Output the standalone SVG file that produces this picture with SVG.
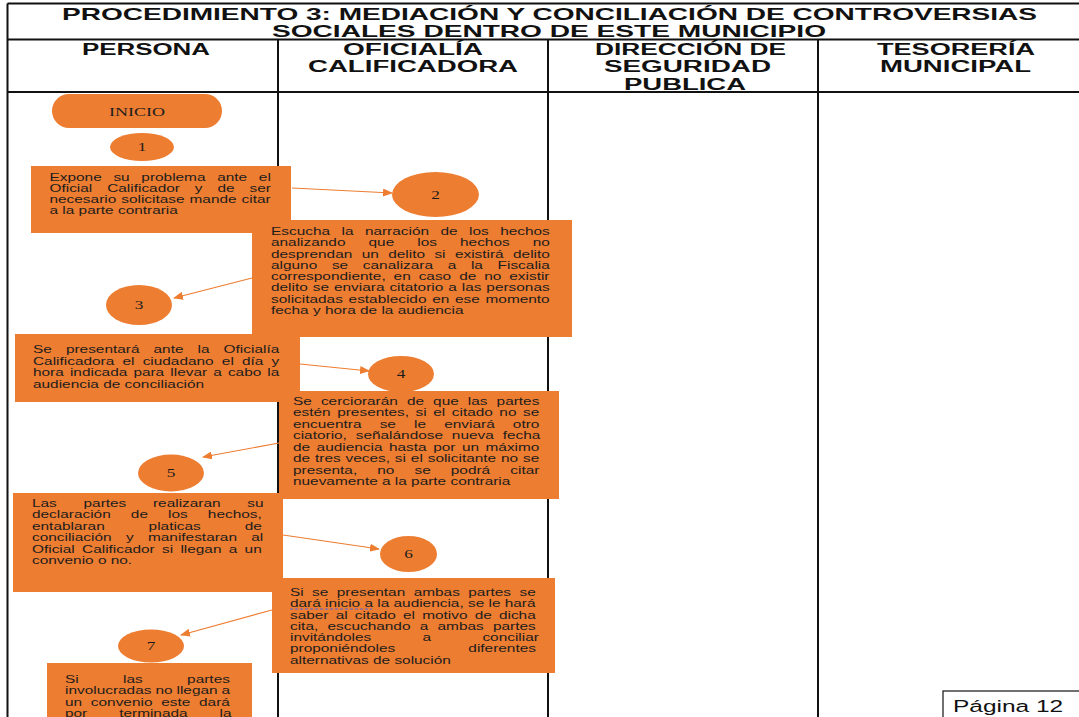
<svg xmlns="http://www.w3.org/2000/svg" width="1079" height="717" viewBox="0 0 1079 717">
<defs>
<style>
.grid{stroke:#111;stroke-width:2;fill:none}
.hd{font-family:"Liberation Sans",Arial,sans-serif;font-weight:bold;font-size:16px;fill:#111}
.tt{font-family:"Liberation Sans",Arial,sans-serif;font-weight:bold;font-size:17px;fill:#111}
.box{fill:#ED7D31}
.bt{font-family:"Liberation Sans",Arial,sans-serif;font-size:10.7px;fill:#1c1c1c}
.num{font-family:"Liberation Serif","Times New Roman",serif;font-size:12px;fill:#1c1c1c;text-anchor:middle}
.con{stroke:#ED7D31;stroke-width:1.2;fill:none;marker-end:url(#arr)}
</style>
<marker id="arr" markerWidth="10" markerHeight="8" refX="9" refY="4" orient="auto" markerUnits="userSpaceOnUse">
<path d="M0,0 L10,4 L0,8 z" fill="#ED7D31"/>
</marker>
</defs>
<rect width="1079" height="717" fill="#fff"/>
<g id="grid">
<line class="grid" x1="7.5" y1="3.5" x2="1079" y2="3.5"/>
<line class="grid" x1="7.5" y1="39.5" x2="1079" y2="39.5"/>
<line class="grid" x1="7.5" y1="92" x2="1079" y2="92"/>
<line class="grid" x1="7.5" y1="3.5" x2="7.5" y2="717"/>
<line class="grid" x1="278" y1="39.5" x2="278" y2="717"/>
<line class="grid" x1="548" y1="39.5" x2="548" y2="717"/>
<line class="grid" x1="818" y1="39.5" x2="818" y2="717"/>
</g>
<g id="header">
<text class="tt" x="62" y="19.5" textLength="975" lengthAdjust="spacingAndGlyphs">PROCEDIMIENTO 3: MEDIACIÓN Y CONCILIACIÓN DE CONTROVERSIAS</text>
<text class="tt" x="272" y="36.5" textLength="554" lengthAdjust="spacingAndGlyphs">SOCIALES DENTRO DE ESTE MUNICIPIO</text>
<text class="hd" x="82" y="54.5" textLength="128" lengthAdjust="spacingAndGlyphs">PERSONA</text>
<text class="hd" x="343" y="54.5" textLength="140" lengthAdjust="spacingAndGlyphs">OFICIALÍA</text>
<text class="hd" x="308" y="72" textLength="210" lengthAdjust="spacingAndGlyphs">CALIFICADORA</text>
<text class="hd" x="595" y="54.5" textLength="191" lengthAdjust="spacingAndGlyphs">DIRECCIÓN DE</text>
<text class="hd" x="604" y="72" textLength="167" lengthAdjust="spacingAndGlyphs">SEGURIDAD</text>
<text class="hd" x="624" y="89.5" textLength="122" lengthAdjust="spacingAndGlyphs">PUBLICA</text>
<text class="hd" x="877" y="54.5" textLength="158" lengthAdjust="spacingAndGlyphs">TESORERÍA</text>
<text class="hd" x="880" y="72" textLength="151" lengthAdjust="spacingAndGlyphs">MUNICIPAL</text>
</g>
<g id="inicio">
<rect class="box" x="52" y="94" width="170" height="34" rx="17"/>
<text class="num" style="font-size:12.5px" transform="translate(137 115.5) scale(1.44 1)">INICIO</text>
</g>
<g id="c1"><ellipse class="box" cx="142" cy="147" rx="32" ry="14"/><text class="num" transform="translate(142 151) scale(1.44 1)">1</text></g>
<g id="b1">
<rect class="box" x="31" y="166" width="260" height="67"/>
<g transform="translate(49.5 0) scale(1.44 1)">
<text class="bt" x="0" y="181" style="word-spacing:5.15px">Expone su problema ante el</text>
<text class="bt" x="0" y="192" style="word-spacing:7.4px">Oficial Calificador y de ser</text>
<text class="bt" x="0" y="203" style="word-spacing:0.5px">necesario solicitase mande citar</text>
<text class="bt" x="0" y="214">a la parte contraria</text>
</g>
</g>
<g id="c2"><ellipse class="box" cx="435.5" cy="194.5" rx="43.5" ry="22.5"/><text class="num" transform="translate(435.5 198.5) scale(1.44 1)">2</text></g>
<g id="b2">
<rect class="box" x="252" y="220" width="320" height="117"/>
<g transform="translate(271 0) scale(1.44 1)">
<text class="bt" x="0" y="235" style="word-spacing:4.97px">Escucha la narración de los hechos</text>
<text class="bt" x="0" y="246.3" style="word-spacing:13.06px">analizando que los hechos no</text>
<text class="bt" x="0" y="257.6" style="word-spacing:3.55px">desprendan un delito si existirá delito</text>
<text class="bt" x="0" y="268.9" style="word-spacing:7.23px">alguno se canalizara a la Fiscalia</text>
<text class="bt" x="0" y="280.2" style="word-spacing:2.55px">correspondiente, en caso de no existir</text>
<text class="bt" x="0" y="291.5" style="word-spacing:0.47px">delito se enviara citatorio a las personas</text>
<text class="bt" x="0" y="302.8" style="word-spacing:1px">solicitadas establecido en ese momento</text>
<text class="bt" x="0" y="314.1">fecha y hora de la audiencia</text>
</g>
</g>
<g id="c3"><ellipse class="box" cx="139" cy="305" rx="33" ry="20"/><text class="num" transform="translate(139 309) scale(1.44 1)">3</text></g>
<g id="b3">
<rect class="box" x="15" y="334" width="285" height="68"/>
<g transform="translate(33 0) scale(1.44 1)">
<text class="bt" x="0" y="353.5" style="word-spacing:6.8px">Se presentará ante la Oficialía</text>
<text class="bt" x="0" y="365" style="word-spacing:2.72px">Calificadora el ciudadano el día y</text>
<text class="bt" x="0" y="376.5" style="word-spacing:1.28px">hora indicada para llevar a cabo la</text>
<text class="bt" x="0" y="388">audiencia de conciliación</text>
</g>
</g>
<g id="c4"><ellipse class="box" cx="401" cy="374" rx="33" ry="18"/><text class="num" transform="translate(401 378) scale(1.44 1)">4</text></g>
<g id="b4">
<rect class="box" x="279" y="391" width="280" height="108"/>
<g transform="translate(293 0) scale(1.44 1)">
<text class="bt" x="0" y="405" style="word-spacing:3.32px">Se cerciorarán de que las partes</text>
<text class="bt" x="0" y="416.5" style="word-spacing:1.57px">estén presentes, si el citado no se</text>
<text class="bt" x="0" y="428" style="word-spacing:9.65px">encuentra se le enviará otro</text>
<text class="bt" x="0" y="439.5" style="word-spacing:3.17px">ciatorio, señalándose nueva fecha</text>
<text class="bt" x="0" y="451" style="word-spacing:1.54px">de audiencia hasta por un máximo</text>
<text class="bt" x="0" y="462.5" style="word-spacing:0.41px">de tres veces, si el solicitante no se</text>
<text class="bt" x="0" y="474" style="word-spacing:10.98px">presenta, no se podrá citar</text>
<text class="bt" x="0" y="485.5">nuevamente a la parte contraria</text>
</g>
</g>
<g id="c5"><ellipse class="box" cx="171" cy="473" rx="33" ry="18.5"/><text class="num" transform="translate(171 477) scale(1.44 1)">5</text></g>
<g id="b5">
<rect class="box" x="13" y="493" width="270" height="99"/>
<g transform="translate(32 0) scale(1.44 1)">
<text class="bt" x="0" y="507" style="word-spacing:15.57px">Las partes realizaran su</text>
<text class="bt" x="0" y="518.5" style="word-spacing:11px">declaración de los hechos,</text>
<text class="bt" x="0" y="530" style="word-spacing:27.5px">entablaran platicas de</text>
<text class="bt" x="0" y="541.5" style="word-spacing:7px">conciliación y manifestaran al</text>
<text class="bt" x="0" y="553" style="word-spacing:2.08px">Oficial Calificador si llegan a un</text>
<text class="bt" x="0" y="564.5">convenio o no.</text>
</g>
</g>
<g id="c6"><ellipse class="box" cx="408.5" cy="554" rx="28.5" ry="18"/><text class="num" transform="translate(408.5 558) scale(1.44 1)">6</text></g>
<g id="b6">
<rect class="box" x="272" y="578" width="283" height="95"/>
<g transform="translate(290 0) scale(1.44 1)">
<text class="bt" x="0" y="596" style="word-spacing:2.88px">Si se presentan ambas partes se</text>
<text class="bt" x="0" y="607.3">dará inicio a la audiencia, se le hará</text>
<text class="bt" x="0" y="618.6" style="word-spacing:2px">saber al citado el motivo de dicha</text>
<text class="bt" x="0" y="629.9" style="word-spacing:3.45px">cita, escuchando a ambas partes</text>
<text class="bt" x="0" y="641.2" style="word-spacing:32.65px">invitándoles a conciliar</text>
<text class="bt" x="0" y="652.5" style="word-spacing:47.8px">proponiéndoles diferentes</text>
<text class="bt" x="0" y="663.8">alternativas de solución</text>
</g>
<line x1="290" y1="609" x2="372" y2="609" stroke="#5a66d8" stroke-width="1.2" stroke-dasharray="3 2"/>
</g>
<g id="c7"><ellipse class="box" cx="151" cy="646" rx="33" ry="16.5"/><text class="num" transform="translate(151 650) scale(1.44 1)">7</text></g>
<g id="b7">
<rect class="box" x="47" y="663" width="205" height="60"/>
<g transform="translate(65 0) scale(1.44 1)">
<text class="bt" x="0" y="683" style="word-spacing:27.85px">Si las partes</text>
<text class="bt" x="0" y="694.5" style="word-spacing:-0.2px">involucradas no llegan a</text>
<text class="bt" x="0" y="706" style="word-spacing:3.1px">un convenio este dará</text>
<text class="bt" x="0" y="717.5" style="word-spacing:19.2px">por terminada la</text>
</g>
</g>
<g id="connectors">
<line class="con" x1="292" y1="188" x2="392" y2="193"/>
<line class="con" x1="252" y1="278" x2="174" y2="298"/>
<line class="con" x1="300" y1="364" x2="369" y2="371"/>
<line class="con" x1="279" y1="443" x2="203" y2="457"/>
<line class="con" x1="283" y1="535" x2="379" y2="549"/>
<line class="con" x1="272" y1="610" x2="181" y2="635"/>
</g>
<g id="page">
<rect x="943" y="691" width="140" height="30" fill="#fff" stroke="#111" stroke-width="1.2"/>
<text transform="translate(953 712) scale(1.44 1)" style="font-family:'Liberation Sans',Arial,sans-serif;font-size:17px;fill:#111">Página 12</text>
</g>
</svg>
